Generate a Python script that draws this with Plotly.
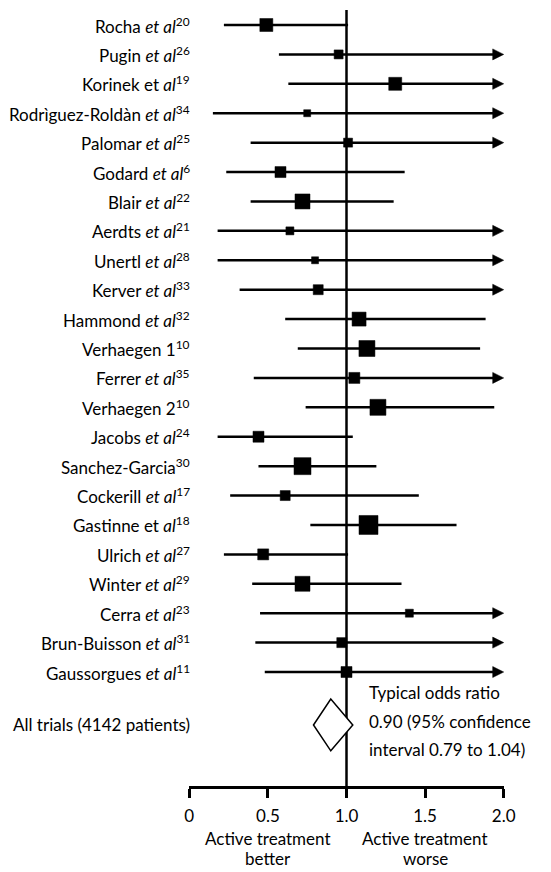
import plotly.graph_objects as go

studies = ["Rocha <i>et al</i><sup>20</sup>", "Pugin <i>et al</i><sup>26</sup>", "Korinek et <i>al</i><sup>19</sup>",
           "Rodrìguez-Roldàn <i>et al</i><sup>34</sup>", "Palomar <i>et al</i><sup>25</sup>", "Godard <i>et al</i><sup>6</sup>",
           "Blair <i>et al</i><sup>22</sup>", "Aerdts <i>et al</i><sup>21</sup>", "Unertl <i>et al</i><sup>28</sup>",
           "Kerver <i>et al</i><sup>33</sup>", "Hammond <i>et al</i><sup>32</sup>", "Verhaegen 1<sup>10</sup>",
           "Ferrer <i>et al</i><sup>35</sup>", "Verhaegen 2<sup>10</sup>", "Jacobs <i>et al</i><sup>24</sup>",
           "Sanchez-Garcia<sup>30</sup>", "Cockerill <i>et al</i><sup>17</sup>", "Gastinne et <i>al</i><sup>18</sup>",
           "Ulrich <i>et al</i><sup>27</sup>", "Winter <i>et al</i><sup>29</sup>", "Cerra <i>et al</i><sup>23</sup>",
           "Brun-Buisson <i>et al</i><sup>31</sup>", "Gaussorgues <i>et al</i><sup>11</sup>"]
odds_ratio = [0.49, 0.95, 1.31, 0.75, 1.01, 0.58, 0.72, 0.64, 0.80, 0.82, 1.08, 1.13, 1.05, 1.20,
              0.44, 0.72, 0.61, 1.14, 0.47, 0.72, 1.40, 0.97, 1.00]
ci_low = [0.22, 0.57, 0.63, 0.15, 0.39, 0.235, 0.39, 0.18, 0.18, 0.32, 0.61, 0.69, 0.41, 0.74,
          0.18, 0.44, 0.26, 0.77, 0.22, 0.40, 0.45, 0.42, 0.48]
# None = upper limit beyond the axis (drawn as an arrow)
ci_high = [1.01, None, None, None, None, 1.37, 1.30, None, None, None, 1.885, 1.85, None, 1.94,
           1.04, 1.19, 1.46, 1.70, 1.01, 1.35, None, None, None]
weight = [13, 9, 13, 7, 9, 11, 15, 8, 7, 10, 14, 16, 11, 16, 11, 17, 10, 19, 11, 15, 8, 10, 11]

pooled_label = "All trials (4142 patients)"
pooled_or, pooled_lo, pooled_hi = 0.90, 0.79, 1.04
pooled_text = ["Typical odds ratio", "0.90 (95% confidence", "interval 0.79 to 1.04)"]

tick_vals = [0, 0.5, 1.0, 1.5, 2.0]
tick_text = ["0", "0.5", "1.0", "1.5", "2.0"]
x_max = 2.0
better_text = ["Active treatment", "better"]
worse_text = ["Active treatment", "worse"]

FONT = "Lato"
FS = 17
ROW_PX = 29.41
rows = list(range(len(studies)))
pooled_row = 23.80

# page body has an 8px margin -> figure is 8px smaller and shifted
OFF = 8
W, H = 551 - OFF, 872 - OFF
plot_left, plot_right = 189 - OFF, 504 - OFF
plot_top, plot_bottom = 10 - OFF, 786 - OFF
row0_px = 25 - OFF

fig = go.Figure()
shapes = []
annotations = []

shapes.append(dict(type="line", xref="x", yref="paper", x0=1.0, x1=1.0, y0=0, y1=1,
                   line=dict(color="black", width=2.5)))

head_len = 11 / 157.5
head_half = 5.5 / ROW_PX
for i, (lo, hi) in enumerate(zip(ci_low, ci_high)):
    end = x_max - head_len * 0.8 if hi is None else hi
    fig.add_trace(go.Scatter(x=[lo, end], y=[i, i], mode="lines",
                             line=dict(color="black", width=2.5), hoverinfo="skip", showlegend=False))
    if hi is None:
        shapes.append(dict(type="path", xref="x", yref="y",
                           path=f"M {x_max},{i} L {x_max - head_len},{i - head_half} L {x_max - head_len},{i + head_half} Z",
                           fillcolor="black", line=dict(color="black", width=0.5)))

fig.add_trace(go.Scatter(x=odds_ratio, y=rows, mode="markers",
                         marker=dict(symbol="square", size=weight, color="#000000", opacity=1,
                                     line=dict(width=0.5, color="#000000")),
                         opacity=1, hoverinfo="skip", showlegend=False))

dh = 0.88
shapes.append(dict(type="path", xref="x", yref="y",
                   path=f"M {pooled_lo},{pooled_row} L {pooled_or},{pooled_row - dh} L {pooled_hi},{pooled_row} L {pooled_or},{pooled_row + dh} Z",
                   fillcolor="white", line=dict(color="black", width=1.5), layer="above"))

font = dict(family=FONT, size=FS, color="black")
for i, s in enumerate(studies):
    annotations.append(dict(x=0, xref="paper", xshift=3, y=i, yref="y", text=s, showarrow=False,
                            xanchor="right", yanchor="middle", font=font))
annotations.append(dict(x=0, xref="paper", xshift=3, y=pooled_row, yref="y", text=pooled_label, showarrow=False,
                        xanchor="right", yanchor="middle", font=font))
for t, ys in zip(pooled_text, [32, 3, -25]):
    annotations.append(dict(x=1.13, xref="x", y=pooled_row, yref="y", yshift=ys, text=t, showarrow=False,
                            xanchor="left", yanchor="middle", font=font))

for xc, lines in [(0.5, better_text), (1.5, worse_text)]:
    for t, ys in zip(lines, [-52, -72]):
        annotations.append(dict(x=xc, xref="x", y=0, yref="paper", yshift=ys, text=t, showarrow=False,
                                xanchor="center", yanchor="middle", font=font))

y_top = (plot_top - row0_px) / ROW_PX
y_bot = (plot_bottom - row0_px) / ROW_PX

fig.update_layout(
    width=W, height=H,
    margin=dict(l=plot_left, r=W - plot_right, t=plot_top, b=H - plot_bottom, pad=0),
    plot_bgcolor="white", paper_bgcolor="white",
    shapes=shapes, annotations=annotations,
    xaxis=dict(range=[-0.002, 2.002], showgrid=False, zeroline=False, showline=True,
               linecolor="black", linewidth=2.5, ticks="outside", ticklen=9, tickwidth=2.5,
               tickcolor="black", tickvals=tick_vals, ticktext=tick_text, ticklabelstandoff=4,
               tickfont=dict(family=FONT, size=FS, color="black")),
    yaxis=dict(range=[y_bot, y_top], visible=False, showgrid=False, zeroline=False),
)

fig.write_html("out.html")
